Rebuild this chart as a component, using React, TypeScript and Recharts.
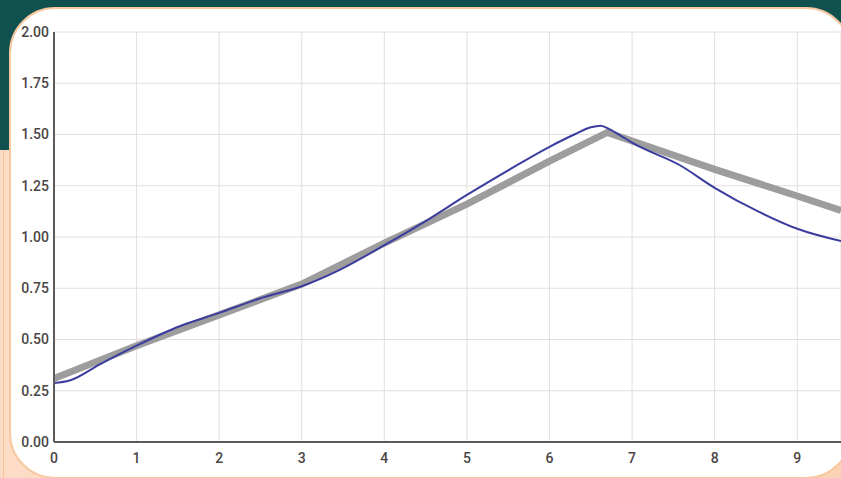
import React from "react";
import { LineChart, Line, XAxis, YAxis, CartesianGrid } from "recharts";

const xTicks = [0, 1, 2, 3, 4, 5, 6, 7, 8, 9];
const yTicks = [0, 0.25, 0.5, 0.75, 1.0, 1.25, 1.5, 1.75, 2.0];

const grayX = [0, 1, 2, 3, 4, 5, 6, 6.7, 8, 9, 9.53];
const grayY = [0.31, 0.47, 0.62, 0.77, 0.97, 1.16, 1.37, 1.51, 1.33, 1.2, 1.13];

const blueX = [0, 0.19, 0.56, 1, 1.53, 2, 2.49, 3, 3.46, 4, 4.55, 5, 5.52, 6, 6.3, 6.5, 6.62, 6.73, 6.86, 7, 7.58, 8, 8.55, 9, 9.53];
const blueY = [0.288, 0.3, 0.38, 0.47, 0.566, 0.63, 0.7, 0.76, 0.84, 0.96, 1.09, 1.205, 1.33, 1.44, 1.5, 1.535, 1.543, 1.525, 1.495, 1.46, 1.35, 1.24, 1.12, 1.04, 0.98];

const grayData = grayX.map((x, i) => ({ x, y: grayY[i] }));
const blueData = blueX.map((x, i) => ({ x, y: blueY[i] }));

const tickStyle = { fill: "#4a4545", fontSize: 14, fontWeight: 500, fontFamily: "Roboto, Liberation Sans, Arial, sans-serif" };

export default function App() {
  return (
    <div style={{ position: "fixed", left: 0, top: 0, width: 841, height: 478, overflow: "hidden", background: "#10504f" }}>
      <div style={{ position: "absolute", left: 0, top: 150, width: 60, height: 340, background: "#fcdcc4" }} />
      <div style={{ position: "absolute", left: 3, top: 150, width: 1, height: 340, background: "#f6c29c" }} />
      <div style={{ position: "absolute", left: 760, top: 400, width: 100, height: 100, background: "#fbd3b4" }} />
      <div
        style={{
          position: "absolute",
          left: 9,
          top: 7,
          width: 843,
          height: 472,
          boxSizing: "border-box",
          background: "#ffffff",
          border: "2px solid #f8c8a0",
          borderRadius: 46,
        }}
      />
      <div style={{ position: "absolute", left: 0, top: 0 }}>
        <LineChart width={841} height={478} margin={{ top: 32, right: 0, bottom: 0, left: 0 }}>
          <CartesianGrid stroke="#e4dedd" strokeWidth={1} />
          <XAxis
            dataKey="x"
            type="number"
            domain={[0, 9.53]}
            ticks={xTicks}
            allowDataOverflow
            height={36}
            tick={tickStyle}
            tickLine={false}
            axisLine={{ stroke: "#5f5a5a", strokeWidth: 2 }}
            tickMargin={5}
          />
          <YAxis
            type="number"
            domain={[0, 2]}
            ticks={yTicks}
            width={54}
            tick={tickStyle}
            tickLine={false}
            tickSize={5}
            axisLine={{ stroke: "#5f5a5a", strokeWidth: 2 }}
            tickFormatter={(v: number) => v.toFixed(2)}
            tickMargin={0}
          />
          <Line data={grayData} dataKey="y" type="linear" stroke="#9d9d9d" strokeWidth={7} dot={false} isAnimationActive={false} />
          <Line data={blueData} dataKey="y" type="monotone" stroke="#3b3d9e" strokeWidth={2} dot={false} isAnimationActive={false} />
        </LineChart>
      </div>
    </div>
  );
}
